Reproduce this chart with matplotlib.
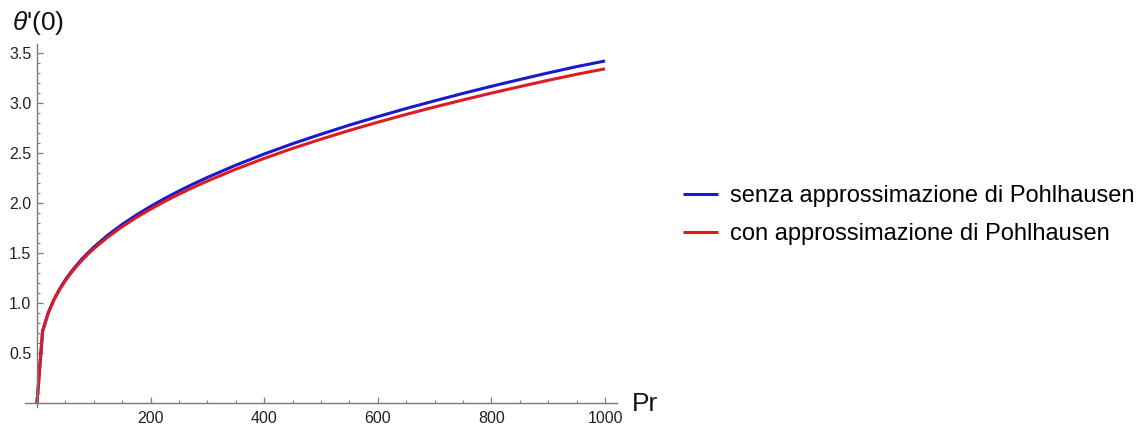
import numpy as np
import matplotlib
matplotlib.use("Agg")
import matplotlib.pyplot as plt
from matplotlib.ticker import MultipleLocator, FixedLocator

plt.rcParams['font.family'] = ['Liberation Sans', 'DejaVu Sans']
plt.rcParams['mathtext.fontset'] = 'custom'
plt.rcParams['mathtext.it'] = 'Liberation Sans:italic'
plt.rcParams['mathtext.rm'] = 'Liberation Sans'

# values
pr = [0, 10, 20, 30, 40, 50, 60, 70, 80, 90, 100, 125, 150, 175, 200, 225,
      250, 275, 300, 350, 400, 450, 500, 550, 600, 650, 700, 750, 800, 850,
      900, 950, 1000]
senza = [0, 0.72, 0.905, 1.037, 1.142, 1.232, 1.310, 1.380, 1.445, 1.503,
         1.558, 1.680, 1.786, 1.880, 1.966, 2.046, 2.120, 2.190, 2.256,
         2.378, 2.490, 2.593, 2.688, 2.779, 2.864, 2.945, 3.022, 3.096,
         3.167, 3.235, 3.301, 3.364, 3.420]
con = [0, 0.72, 0.900, 1.031, 1.134, 1.222, 1.299, 1.368, 1.432, 1.489,
       1.543, 1.660, 1.763, 1.855, 1.938, 2.016, 2.088, 2.156, 2.220,
       2.338, 2.446, 2.546, 2.638, 2.726, 2.808, 2.886, 2.960, 3.031,
       3.099, 3.164, 3.227, 3.287, 3.342]
labels = ["senza approssimazione di Pohlhausen",
          "con approssimazione di Pohlhausen"]
colors = ["#1a1acc", "#dd1c22"]

W, H = 1137, 430
fig = plt.figure(figsize=(W / 100, H / 100), dpi=100)
ax = fig.add_axes([25 / W, 1 - 407 / H, 592 / W, 363 / H])

ax.plot(pr, senza, color=colors[0], lw=2.2, label=labels[0],
        solid_capstyle='butt', solid_joinstyle='round')
ax.plot(pr, con, color=colors[1], lw=2.2, label=labels[1],
        solid_capstyle='butt', solid_joinstyle='round')

ax.set_xlim(-21, 1021)
ax.set_ylim(-0.04, 3.59)

for side in ['top', 'right']:
    ax.spines[side].set_visible(False)
ax.spines['left'].set_position(('data', 0))
ax.spines['bottom'].set_position(('data', 0))
for side in ['left', 'bottom']:
    ax.spines[side].set_color('#7a7a7a')
    ax.spines[side].set_linewidth(1.0)

ax.xaxis.set_major_locator(FixedLocator([200, 400, 600, 800, 1000]))
ax.xaxis.set_minor_locator(MultipleLocator(50))
ax.yaxis.set_major_locator(FixedLocator([0.5, 1.0, 1.5, 2.0, 2.5, 3.0, 3.5]))
ax.yaxis.set_minor_locator(MultipleLocator(0.1))
ax.yaxis.set_major_formatter(matplotlib.ticker.FormatStrFormatter('%.1f'))

ax.tick_params(which='both', direction='in', color='#7a7a7a',
               labelcolor='#222222', labelsize=11.5)
ax.tick_params(which='major', length=4.5, width=0.9)
ax.tick_params(which='minor', length=2.5, width=0.8)
ax.tick_params(axis='x', pad=6)
ax.tick_params(axis='y', pad=4)

fig.text(632 / W, 1 - 404 / H, "Pr", fontsize=19, color='#111111',
         ha='left', va='center')
fig.text(12 / W, 1 - 23 / H, r"$\theta$'(0)", fontsize=19, color='#111111',
         ha='left', va='center')

fig.legend(loc='center left', bbox_to_anchor=(683 / W, 1 - 215 / H),
           frameon=False, fontsize=17, handlelength=1.48, handletextpad=0.5,
           labelspacing=0.69, borderpad=0, borderaxespad=0)

fig.savefig("out.png", dpi=100)
